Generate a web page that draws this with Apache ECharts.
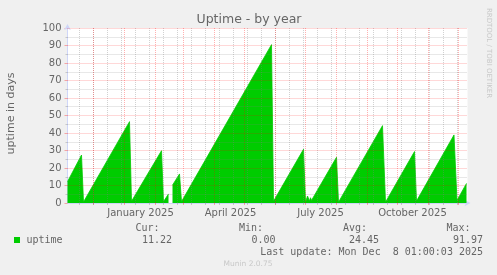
<!DOCTYPE html>
<html>
<head>
<meta charset="utf-8">
<script src="https://cdn.jsdelivr.net/npm/echarts@6/dist/echarts.min.js"></script>
<style>
html,body{margin:0;padding:0;background:#F0F0F0;}
#chart{width:497px;height:275px;}
</style>
</head>
<body>
<div id="chart"></div>
<script>
// Day offsets from 1 January 2025 and uptime values (days)
const dayOffsets = [-57, -43, -41, 5, 7, 37, 39, 44, 46, 48, 55, 57, 147, 149, 179, 181, 183, 185, 186, 187, 212, 214, 258, 261, 290, 292, 329.5, 332.5, 342];
const uptimeDays = [12.2, 27.4, 0.6, 46.5, 1.0, 29.9, 0.8, 5.2, null, 10.2, 16.6, 0.8, 90.5, 1.0, 30.7, 0.3, 4.0, 1.2, 3.0, 1.5, 26.1, 0.5, 44.2, 0.5, 29.4, 1.1, 38.9, 1.5, 11.2];

// Axis definitions
const xMin = -57, xMax = 343;
const monthStarts = [-31, 0, 31, 59, 90, 120, 151, 181, 212, 243, 273, 304, 334];
const biweekly = [-45, -31, -17, -3, 11, 25, 39, 53, 67, 81, 95, 109, 123, 137, 151, 165, 179, 193, 207, 221, 235, 249, 263, 277, 291, 305, 319, 333];
const xLabelPos = [16, 106, 196, 288];
const xLabelText = ['January 2025', 'April 2025', 'July 2025', 'October 2025'];
const yMajor = [10, 20, 30, 40, 50, 60, 70, 80, 90, 100];
const yMinor = [5, 15, 25, 35, 45, 55, 65, 75, 85, 95];

// Legend / stats
const seriesName = 'uptime';
const statHeaders = ['Cur:', 'Min:', 'Avg:', 'Max:'];
const statValues = ['11.22', '0.00', '24.45', '91.97'];
const lastUpdate = 'Last update: Mon Dec  8 01:00:03 2025';

const seriesData = dayOffsets.map((d, i) => [d, uptimeDays[i]]);

const RED = 'rgba(255,0,0,0.31)';
const GRAY = 'rgba(128,128,128,0.36)';
const AXIS = '#CFD6F8';
const FONT = '#666666';
const SANS = 'DejaVu Sans';

const gridLines = [];
yMinor.forEach(v => gridLines.push({ yAxis: v, lineStyle: { color: GRAY, type: [1, 1], width: 1 } }));
biweekly.forEach(v => gridLines.push({ xAxis: v, lineStyle: { color: GRAY, type: [1, 1], width: 1 } }));
yMajor.forEach(v => gridLines.push({ yAxis: v, lineStyle: { color: RED, type: [1, 1], width: 1 } }));
monthStarts.forEach(v => gridLines.push({ xAxis: v, lineStyle: { color: RED, type: [1, 1], width: 1 } }));

const headerRight = [159.5, 263, 367, 470.5];
const valueRight = [172, 275.5, 379, 483];
const graphics = [
  { type: 'text', style: { x: 249, y: 19.5, text: 'Uptime - by year', fill: FONT, font: '12.5px "DejaVu Sans"', align: 'center', verticalAlign: 'middle' } },
  { type: 'text', x: 11, y: 113.5, rotation: Math.PI / 2, style: { x: 0, y: 0, text: 'uptime in days', fill: FONT, font: '11px "DejaVu Sans"', align: 'center', verticalAlign: 'middle' } },
  { type: 'text', x: 489, y: 53, rotation: -Math.PI / 2, style: { x: 0, y: 0, text: 'RRDTOOL / TOBI OETIKER', fill: '#C8C8C8', font: '7px "DejaVu Sans"', align: 'center', verticalAlign: 'middle' } },
  { type: 'rect', shape: { x: 14, y: 237, width: 6, height: 6 }, style: { fill: '#00CC00' } },
  { type: 'text', style: { x: 26.5, y: 240, text: seriesName, fill: FONT, font: '10px "DejaVu Sans Mono"', align: 'left', verticalAlign: 'middle' } },
  { type: 'text', style: { x: 483, y: 252, text: lastUpdate, fill: FONT, font: '10px "DejaVu Sans Mono"', align: 'right', verticalAlign: 'middle' } },
  { type: 'text', style: { x: 248, y: 264, text: 'Munin 2.0.75', fill: '#C8C8C8', font: '7.5px "DejaVu Sans"', align: 'center', verticalAlign: 'middle' } }
];
statHeaders.forEach((h, i) => graphics.push({ type: 'text', style: { x: headerRight[i], y: 228, text: h, fill: FONT, font: '10px "DejaVu Sans Mono"', align: 'right', verticalAlign: 'middle' } }));
statValues.forEach((v, i) => graphics.push({ type: 'text', style: { x: valueRight[i], y: 240, text: v, fill: FONT, font: '10px "DejaVu Sans Mono"', align: 'right', verticalAlign: 'middle' } }));

const chart = echarts.init(document.getElementById('chart'), null, { renderer: 'canvas' });
chart.setOption({
  backgroundColor: '#F0F0F0',
  animation: false,
  grid: { left: 67.5, right: 29.5, top: 28, bottom: 72, show: true, backgroundColor: '#FFFFFF', borderWidth: 0 },
  xAxis: [
    {
      type: 'value', min: xMin, max: xMax, position: 'bottom',
      axisLine: { show: true, onZero: false, lineStyle: { color: AXIS, width: 1 }, symbol: ['none', 'arrow'], symbolSize: [5, 6], symbolOffset: [0, 3] },
      axisTick: { show: true, customValues: monthStarts, length: 2, lineStyle: { color: RED } },
      axisLabel: {
        show: true, customValues: xLabelPos, color: FONT, fontFamily: SANS, fontSize: 10, margin: 5,
        formatter: v => { const i = xLabelPos.indexOf(v); return i >= 0 ? xLabelText[i] : ''; }
      },
      splitLine: { show: false }
    },
    {
      type: 'value', min: xMin, max: xMax, position: 'bottom', offset: 0,
      axisLine: { show: false },
      axisTick: { show: true, customValues: biweekly, length: 2, lineStyle: { color: GRAY } },
      axisLabel: { show: false },
      splitLine: { show: false }
    }
  ],
  yAxis: {
    type: 'value', min: 0, max: 100, interval: 10,
    axisLine: { show: true, onZero: false, lineStyle: { color: AXIS, width: 1 }, symbol: ['none', 'arrow'], symbolSize: [5, 6], symbolOffset: [0, 4] },
    axisTick: { show: true, length: 3, lineStyle: { color: RED } },
    minorTick: { show: true, splitNumber: 2, length: 2, lineStyle: { color: GRAY } },
    axisLabel: { color: FONT, fontFamily: SANS, fontSize: 10, margin: 6 },
    splitLine: { show: false }
  },
  series: [{
    name: seriesName,
    type: 'line',
    xAxisIndex: 0,
    data: seriesData,
    showSymbol: false,
    connectNulls: false,
    lineStyle: { width: 0.8, color: '#00CC00' },
    areaStyle: { color: '#00CC00', opacity: 1 },
    itemStyle: { color: '#00CC00' },
    silent: true,
    z: 2,
    markLine: { silent: true, symbol: ['none', 'none'], label: { show: false }, animation: false, data: gridLines }
  }],
  graphic: graphics
});
</script>
</body>
</html>
